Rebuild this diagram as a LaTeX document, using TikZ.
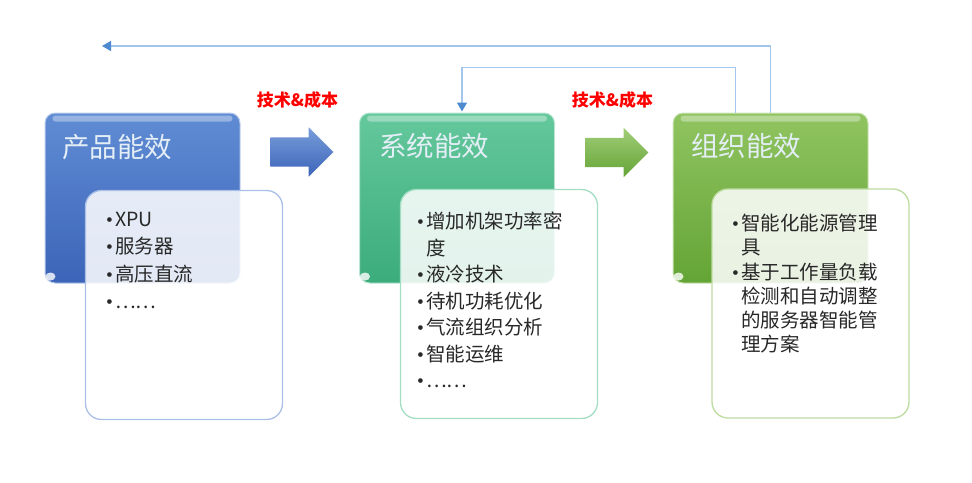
\documentclass[tikz,border=0pt]{standalone}
\usepackage{fontspec}
\setmainfont{Noto Sans CJK SC}
\newfontfamily\dotfont{Liberation Serif}
\usepackage{tikz}
\usetikzlibrary{calc}
\usetikzlibrary{arrows.meta,shapes.arrows}
\tikzset{>=latex}
\definecolor{prodtop}{RGB}{96,140,212}
\definecolor{prodbot}{RGB}{60,100,184}
\definecolor{systop}{RGB}{100,200,156}
\definecolor{sysbot}{RGB}{60,172,124}
\definecolor{orgtop}{RGB}{144,196,96}
\definecolor{orgbot}{RGB}{100,164,54}
\definecolor{titlewhite}{RGB}{228,238,246}
\definecolor{itemgray}{RGB}{40,40,40}
\definecolor{fbblue}{RGB}{164,198,236}
\definecolor{fbtip}{RGB}{78,138,208}
\newcommand{\itemdot}{\makebox[9pt][l]{\dotfont •}}
\newcommand{\itemgap}{\hspace*{9pt}}
\tikzset{
  catbox/.style={minimum width=195pt, minimum height=170pt, rounded corners=10pt, inner sep=0pt, line width=1pt},
  listbox/.style={minimum width=197pt, minimum height=229pt, rounded corners=16pt, inner sep=0pt, fill=white, fill opacity=0.86, line width=1.3pt},
  cattitle/.style={anchor=west, inner sep=0pt, text=titlewhite, font=\fontsize{27.5}{30}\selectfont},
  itemtext/.style={anchor=north west, align=left, inner sep=0pt, text=itemgray, font=\fontsize{19.5}{26.5}\selectfont},
  costlabel/.style={inner sep=0pt, text=red, font=\bfseries\fontsize{17}{20}\selectfont},
  flowarrow/.style={single arrow, single arrow head extend=10pt, minimum height=63pt, inner xsep=0pt, inner ysep=14.5pt},
  fbline/.style={line width=1.5pt, draw=fbblue, -{Triangle[length=9pt,width=10pt,color=fbtip]}}
}

\begin{document}
\begin{tikzpicture}[x=1pt,y=-1pt]
\useasboundingbox (0,0) rectangle (972,482);

% coloured boxes
\node (prod) at (142.5,198) [catbox, top color=prodtop, bottom color=prodbot, draw=prodtop!45!white] {};
\node (sys) at (457,198) [catbox, top color=systop, bottom color=sysbot, draw=systop!45!white] {};
\node (org) at (770.5,198) [catbox, top color=orgtop, bottom color=orgbot, draw=orgtop!45!white] {};
\foreach \b in {prod,sys,org} {
  \fill[white, opacity=0.35, rounded corners=3pt] ($(\b.north west)+(8,3)$) rectangle ($(\b.north east)+(-8,9)$);
  \fill[white, opacity=0.8] ($(\b.south west)+(6,-7)$) ellipse (5 and 4);
}
\node (prodtitle) at (62,147) [cattitle] {产品能效};
\node (systitle) at (379,146) [cattitle] {系统能效};
\node (orgtitle) at (691,146) [cattitle] {组织能效};

% list boxes
\node (prodlist) at (184,305) [listbox, draw=prodtop!55!white] {};
\node (syslist) at (499,304) [listbox, draw=systop!60!white] {};
\node (orglist) at (810.5,303.5) [listbox, draw=orgtop!60!white] {};
\node (proditems) at (106,212) [itemtext, font=\fontsize{19.5}{27.3}\selectfont] {\itemdot XPU\\\itemdot 服务器\\\itemdot 高压直流\\\itemdot ……};
\node (sysitems) at (417,212) [itemtext] {\itemdot 增加机架功率密\\\itemgap 度\\\itemdot 液冷技术\\\itemdot 待机功耗优化\\\itemdot 气流组织分析\\\itemdot 智能运维\\\itemdot ……};
\node (orgitems) at (732,214) [itemtext, font=\fontsize{19.5}{24.2}\selectfont] {\itemdot 智能化能源管理\\\itemgap 具\\\itemdot 基于工作量负载\\\itemgap 检测和自动调整\\\itemgap 的服务器智能管\\\itemgap 理方案};

% flow arrows
\node (flowA) at (294.5,152) [flowarrow, top color=prodtop!85!white, bottom color=prodbot] {};
\node (flowB) at (609.5,152.5) [flowarrow, top color=orgtop!85!white, bottom color=orgbot] {};
\node (costA) at (297.5,100) [costlabel] {技术\&成本};
\node (costB) at (612.5,100) [costlabel] {技术\&成本};

% feedback lines
\coordinate (fbend) at (102,46);
\draw[fbline] (org.north) |- (fbend);
\draw[fbline] ($(org.north)+(-35,0)$) -- ++(0,-45) -| ($(sys.north)+(5,-1)$);
\end{tikzpicture}
\end{document}
